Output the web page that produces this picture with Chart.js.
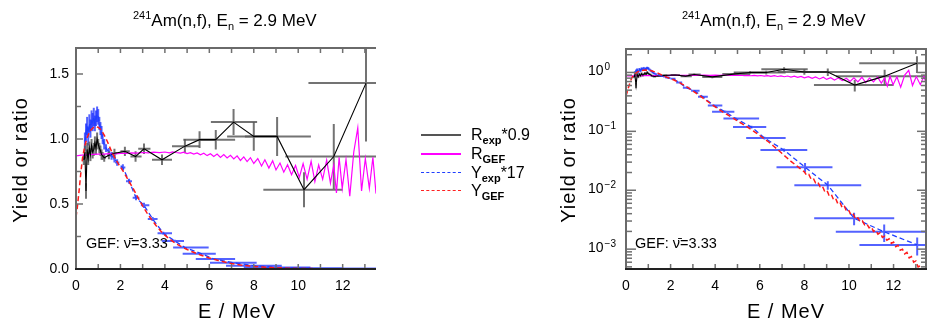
<!DOCTYPE html>
<html><head><meta charset="utf-8">
<script src="https://cdn.jsdelivr.net/npm/chart.js@4/dist/chart.umd.min.js"></script>
<style>
html,body{margin:0;padding:0;background:#fff}
body{width:936px;height:326px;overflow:hidden;position:relative;font-family:"Liberation Sans","DejaVu Sans",Arial,sans-serif;color:#000}
canvas{position:absolute;top:0}
.t{position:absolute;font-size:17px;line-height:20px;white-space:nowrap}
.sup{font-size:11px;position:relative;top:-7px}
.sub{font-size:11px;position:relative;top:4px}
.ax{position:absolute;font-size:20px;line-height:24px;letter-spacing:1px;white-space:nowrap;text-align:center}
.gef{position:absolute;font-size:14.5px;line-height:18px;white-space:nowrap}
.lg{position:absolute;left:420px;width:160px;height:19px}
.lg .ln{position:absolute;left:1px;width:40px;top:9px;height:0}
.lg .tx{position:absolute;left:51px;top:0;font-size:16px;line-height:19px;white-space:nowrap}
.lg .sb{font-size:11px;font-weight:bold;position:relative;top:4px}
</style></head><body>
<canvas id="c1" width="385" height="326" style="left:0"></canvas>
<canvas id="c2" width="386" height="326" style="left:550px"></canvas>

<div class="t" style="left:133px;top:11px"><span class="sup">241</span>Am(n,f), E<span class="sub">n</span> = 2.9 MeV</div>
<div class="t" style="left:682px;top:11px"><span class="sup">241</span>Am(n,f), E<span class="sub">n</span> = 2.9 MeV</div>

<div class="ax" style="left:137px;top:299px;width:200px">E / MeV</div>
<div class="ax" style="left:686px;top:299px;width:200px">E / MeV</div>
<div class="ax" style="left:-80px;top:148px;width:200px;transform:rotate(-90deg)">Yield or ratio</div>
<div class="ax" style="left:468px;top:148px;width:200px;transform:rotate(-90deg)">Yield or ratio</div>

<div class="gef" style="left:86px;top:234px">GEF: &#957;&#772;=3.33</div>
<div class="gef" style="left:635px;top:234px">GEF: &#957;&#772;=3.33</div>

<div class="lg" style="top:125px"><div class="ln" style="border-top:2px solid #555"></div><div class="tx">R<span class="sb">exp</span>*0.9</div></div>
<div class="lg" style="top:144px"><div class="ln" style="border-top:2px solid #ff00ff"></div><div class="tx">R<span class="sb">GEF</span></div></div>
<div class="lg" style="top:163px"><div class="ln" style="border-top:1.5px dashed #1f3fff"></div><div class="tx">Y<span class="sb">exp</span>*17</div></div>
<div class="lg" style="top:181px"><div class="ln" style="border-top:1.5px dashed #ff2020"></div><div class="tx">Y<span class="sb">GEF</span></div></div>

<script>
// ---------- data ----------
// R_exp * 0.9 (black), energy, value, bin edges, y error
const rExpE  = [0.35,0.40,0.45,0.50,0.55,0.60,0.65,0.70,0.75,0.80,0.85,0.90,0.95,1.00,1.05,1.10,1.15,1.20,1.27,1.48,1.73,2.20,2.68,3.06,3.87,4.90,5.56,6.29,7.09,8.00,9.05,10.26,11.60,13.05];
const rExpV  = [0.84,0.90,0.60,0.92,0.85,0.93,0.88,0.95,0.90,0.92,0.97,0.93,1.00,0.96,0.93,0.91,0.88,0.87,0.855,0.875,0.89,0.905,0.865,0.925,0.84,0.945,0.995,0.995,1.13,1.02,1.02,0.61,0.865,1.43];
const rExpLo = [0.35,0.40,0.45,0.50,0.55,0.60,0.65,0.70,0.75,0.80,0.85,0.90,0.95,1.00,1.05,1.10,1.15,1.20,1.20,1.40,1.62,2.00,2.45,2.80,3.42,4.32,4.83,5.56,6.07,6.80,7.60,8.43,9.42,10.46];
const rExpHi = [0.35,0.40,0.45,0.50,0.55,0.60,0.65,0.70,0.75,0.80,0.85,0.90,0.95,1.00,1.05,1.10,1.15,1.20,1.35,1.58,1.85,2.42,2.95,3.35,4.32,5.56,6.30,7.16,8.15,9.10,10.57,12.00,13.80,15.60];
const rExpErr= [0.04,0.05,0.06,0.05,0.05,0.05,0.05,0.05,0.05,0.05,0.05,0.05,0.05,0.04,0.04,0.04,0.04,0.03,0.03,0.03,0.035,0.035,0.04,0.04,0.04,0.055,0.065,0.075,0.10,0.11,0.15,0.135,0.25,0.45];

// R_GEF (magenta)
const rGefE = [0.0,0.25,0.5,0.75,1.0,1.25,1.5,1.75,2.0,2.25,2.5,2.75,3.0,3.25,3.5,3.75,4.0,4.2,4.35,4.5,4.7,4.85,5.0,5.15,5.3,5.45,5.6,5.75,5.9,6.05,6.2,6.35,6.5,6.65,6.8,6.95,7.1,7.25,7.4,7.55,7.7,7.85,8.0,8.18,8.35,8.5,8.68,8.85,9.0,9.18,9.35,9.52,9.7,9.88,10.05,10.22,10.4,10.58,10.75,10.92,11.1,11.28,11.45,11.6,11.72,11.84,11.98,12.15,12.32,12.5,12.68,12.85,13.02,13.2,13.36,13.5];
const rGefV = [0.870,0.876,0.879,0.882,0.884,0.883,0.887,0.886,0.890,0.889,0.893,0.891,0.896,0.893,0.899,0.895,0.900,0.894,0.901,0.896,0.892,0.899,0.888,0.895,0.884,0.893,0.879,0.890,0.872,0.887,0.866,0.884,0.858,0.880,0.854,0.874,0.846,0.870,0.835,0.862,0.826,0.856,0.812,0.850,0.792,0.840,0.776,0.832,0.762,0.815,0.745,0.802,0.725,0.796,0.705,0.810,0.690,0.828,0.672,0.800,0.690,0.838,0.660,0.800,0.585,0.860,0.620,0.842,0.560,0.900,1.085,0.600,0.850,0.620,0.860,0.580,0.820,0.600,0.840,0.640,0.780,0.610];

// Y_exp * 17 (blue)
const yExpE  = [0.40,0.45,0.50,0.55,0.60,0.65,0.70,0.75,0.80,0.85,0.90,0.95,1.00,1.05,1.10,1.15,1.20,1.27,1.35,1.48,1.60,1.73,1.85,2.11,2.39,2.70,3.06,3.45,3.93,4.45,4.91,5.63,6.21,7.09,8.03,9.05,10.23,11.58,13.06];
const yExpV  = [0.98,1.05,1.10,1.02,1.12,1.08,1.15,1.13,1.17,1.12,1.16,1.19,1.17,1.12,1.08,1.05,1.00,0.96,0.93,0.90,0.87,0.85,0.82,0.78,0.675,0.548,0.49,0.385,0.275,0.215,0.165,0.118,0.077,0.048,0.0246,0.0122,0.00334,0.00197,0.00118];
const yExpLo = [0.40,0.45,0.50,0.55,0.60,0.65,0.70,0.75,0.80,0.85,0.90,0.95,1.00,1.05,1.10,1.15,1.20,1.22,1.30,1.42,1.54,1.66,1.76,2.00,2.25,2.55,2.92,3.23,3.67,3.86,4.37,4.80,5.39,6.03,6.75,7.55,8.44,9.41,10.47];
const yExpHi = [0.40,0.45,0.50,0.55,0.60,0.65,0.70,0.75,0.80,0.85,0.90,0.95,1.00,1.05,1.10,1.15,1.20,1.32,1.40,1.54,1.66,1.80,1.95,2.22,2.52,2.85,3.30,3.67,4.32,4.86,5.97,6.29,7.16,8.13,9.26,10.55,12.03,13.80,15.60];
const yExpErr= [0.07,0.07,0.07,0.07,0.07,0.07,0.07,0.07,0.07,0.06,0.06,0.06,0.06,0.05,0.05,0.05,0.04,0.04,0.03,0.03,0.03,0.03,0.025,0.025,0.02,0.02,0.02,0.015,0.012,0.01,0.008,0.006,0.004,0.003,0.0045,0.002,0.0008,0.00065,0.0004];

// Y_GEF (red)
const yGefE = [0.0,0.05,0.1,0.15,0.2,0.25,0.3,0.4,0.5,0.6,0.7,0.8,0.9,1.0,1.1,1.2,1.3,1.4,1.5,1.6,1.7,1.8,1.9,2.0,2.2,2.4,2.6,2.8,3.0,3.2,3.4,3.6,3.8,4.0,4.2,4.4,4.6,4.8,5.0,5.2,5.4,5.6,5.8,6.0,6.2,6.4,6.6,6.8,7.0,7.2,7.4,7.6,7.8,8.0,8.1,8.2,8.3,8.4,8.5,8.6,8.7,8.8,8.9,9.0,9.1,9.2,9.3,9.4,9.5,9.6,9.7,9.8,9.9,10.0,10.1,10.2,10.3,10.4,10.5,10.6,10.7,10.8,10.9,11.0,11.1,11.2,11.3,11.4,11.5,11.6,11.7,11.8,11.9,12.0,12.1,12.2,12.3,12.4,12.5,12.6,12.7,12.8,12.9,13.0,13.1,13.2,13.3,13.4,13.5];
const yGefV = [0.40,0.46,0.54,0.62,0.71,0.79,0.86,0.95,1.01,1.05,1.075,1.09,1.095,1.09,1.075,1.05,1.02,0.985,0.945,0.905,0.87,0.84,0.81,0.785,0.73,0.67,0.61,0.545,0.485,0.43,0.38,0.335,0.295,0.26,0.232,0.207,0.186,0.167,0.150,0.135,0.121,0.108,0.096,0.085,0.075,0.066,0.057,0.049,0.042,0.036,0.031,0.027,0.0235,0.0205,0.0180,0.0186,0.0155,0.0160,0.0134,0.0139,0.0115,0.0119,0.0098,0.0102,0.0083,0.0087,0.0070,0.0073,0.0059,0.0062,0.0050,0.0053,0.0043,0.0045,0.0037,0.0039,0.0032,0.0034,0.0029,0.0030,0.0026,0.0027,0.0023,0.0024,0.0020,0.0021,0.0018,0.0019,0.00158,0.00166,0.00142,0.00150,0.00125,0.00132,0.00110,0.00116,0.00096,0.00100,0.00083,0.00088,0.00071,0.00075,0.00060,0.00063,0.00050,0.00052,0.00042,0.00044,0.00035,0.00036];

const xTicksLabelled = [0,2,4,6,8,10,12];
const linTicksLabelled = [0,0.5,1.0,1.5];
const logDecades = [-3,-2,-1,0];

// ---------- helpers ----------
const FONT = '"Liberation Sans","DejaVu Sans",Arial,sans-serif';
Chart.defaults.font.family = FONT;
Chart.defaults.color = '#000';

function pts(E,V,Lo,Hi,Err){
  return E.map((e,i)=>({x:e,y:V[i],xMin:Lo?Lo[i]:e,xMax:Hi?Hi[i]:e,yMin:Err?V[i]-Err[i]:V[i],yMax:Err?V[i]+Err[i]:V[i]}));
}
function datasets(){
  return [
    {label:'Y_GEF',data:pts(yGefE,yGefV),borderColor:'#ff1a1a',borderWidth:1.5,borderDash:[5,3],pointRadius:0,order:0},
    {label:'Y_exp*17',data:pts(yExpE,yExpV,yExpLo,yExpHi,yExpErr),borderColor:'#1f3fff',borderWidth:1.3,borderDash:[5,3],pointRadius:0,order:1,errColor:'rgba(25,45,255,0.75)'},
    {label:'R_exp*0.9',data:pts(rExpE,rExpV,rExpLo,rExpHi,rExpErr),borderColor:'#000',borderWidth:1.1,pointRadius:0,order:2,errColor:'rgba(90,90,90,0.85)'},
    {label:'R_GEF',data:pts(rGefE,rGefV),borderColor:'#ff00ff',borderWidth:1.2,pointRadius:0,order:3}
  ];
}

const errPlugin = {
  id:'errbars',
  beforeDatasetsDraw(chart){
    const {ctx, chartArea:a, scales:{x,y}} = chart;
    ctx.save();
    ctx.beginPath(); ctx.rect(a.left,a.top,a.right-a.left,a.bottom-a.top); ctx.clip();
    chart.data.datasets.forEach(ds=>{
      if(!ds.errColor) return;
      ctx.strokeStyle = ds.errColor; ctx.lineWidth = 2;
      ds.data.forEach(p=>{
        const px = x.getPixelForValue(p.x), py = y.getPixelForValue(p.y);
        ctx.beginPath();
        if(p.xMax>p.xMin){ ctx.moveTo(x.getPixelForValue(p.xMin),py); ctx.lineTo(x.getPixelForValue(p.xMax),py); }
        if(p.yMax>p.yMin){
          const lo = (y.type==='logarithmic' && p.yMin<=0) ? y.min : p.yMin;
          ctx.moveTo(px, y.getPixelForValue(lo));
          ctx.lineTo(px, y.getPixelForValue(p.yMax));
        }
        ctx.stroke();
      });
    });
    ctx.restore();
  }
};

const framePlugin = {
  id:'frame',
  afterDatasetsDraw(chart, args, o){
    const {ctx, chartArea:a, scales:{x,y}} = chart;
    const line=(x1,y1,x2,y2)=>{ctx.beginPath();ctx.moveTo(x1,y1);ctx.lineTo(x2,y2);ctx.stroke();};
    ctx.save();
    ctx.strokeStyle='#707070'; ctx.lineWidth=1.5;
    for(let v=0; v<=x.max; v++){
      const px = x.getPixelForValue(v);
      line(px,a.bottom,px,a.bottom-5); line(px,a.top,px,a.top+5);
    }
    const yt = [];
    if(o.log){
      logDecades.concat([-4]).forEach(e=>{ for(let m=1;m<=9;m++){ const v=m*Math.pow(10,e); if(v>=y.min&&v<=y.max) yt.push([v,m===1?10:6]); } });
    } else {
      for(let k=0;k*0.25<=y.max+1e-9;k++) yt.push([k*0.25, k%2===0?7:5]);
    }
    yt.forEach(([v,L])=>{ const py=y.getPixelForValue(v); line(a.left,py,a.left+L,py); if(o.right) line(a.right,py,a.right-L,py); });
    ctx.lineWidth=2;
    ctx.strokeStyle='#6a6a6a';
    line(a.left,a.top,a.left,a.bottom);
    line(a.left-1,a.top,a.right,a.top);
    if(o.right) line(a.right-1,a.top,a.right-1,a.bottom);
    ctx.strokeStyle='#222';
    line(a.left-1,a.bottom,a.right,a.bottom);
    if(o.log){
      ctx.fillStyle='#000'; ctx.textBaseline='alphabetic'; ctx.textAlign='left';
      logDecades.forEach(e=>{
        const py=y.getPixelForValue(Math.pow(10,e));
        ctx.font='14px '+FONT;
        ctx.fillText('10', y.left, py+3);
        const w=ctx.measureText('10').width;
        ctx.font='10px '+FONT;
        ctx.fillText(e===0?'0':'\u2212'+(-e), y.left+w+1, py-2);
      });
    }
    ctx.restore();
  }
};

function xScale(){
  return {type:'linear',min:0,max:13.5,position:'bottom',
    afterFit(s){s.height=57;},
    grid:{display:false,drawTicks:false},border:{display:false},
    ticks:{stepSize:1,autoSkip:false,maxRotation:0,padding:9,color:'#000',font:{size:14},
      callback:v=> xTicksLabelled.includes(v)?String(v):''}
  };
}

new Chart(document.getElementById('c1'),{
  type:'line',
  data:{datasets:datasets()},
  options:{responsive:false,animation:false,devicePixelRatio:1,
    layout:{padding:{top:48,left:0,right:0,bottom:0}},
    plugins:{legend:{display:false},tooltip:{enabled:false},frame:{log:false,right:false}},
    scales:{
      x:xScale(),
      y:{type:'linear',min:0,max:1.7,
        afterFit(s){s.width=76;},
        grid:{display:false,drawTicks:false},border:{display:false},
        ticks:{stepSize:0.25,autoSkip:false,padding:7,color:'#000',font:{size:14},
          callback:v=> linTicksLabelled.some(t=>Math.abs(t-v)<1e-6)?v.toFixed(1):''}
      }
    }
  },
  plugins:[errPlugin,framePlugin]
});

new Chart(document.getElementById('c2'),{
  type:'line',
  data:{datasets:datasets()},
  options:{responsive:false,animation:false,devicePixelRatio:1,
    layout:{padding:{top:49,left:38,right:0,bottom:0}},
    plugins:{legend:{display:false},tooltip:{enabled:false},frame:{log:true,right:true}},
    scales:{
      x:xScale(),
      y:{type:'logarithmic',min:4.6e-4,max:2.5,
        afterFit(s){s.width=38;},
        grid:{display:false,drawTicks:false},border:{display:false},
        ticks:{display:false}
      }
    }
  },
  plugins:[errPlugin,framePlugin]
});
</script>
</body></html>
